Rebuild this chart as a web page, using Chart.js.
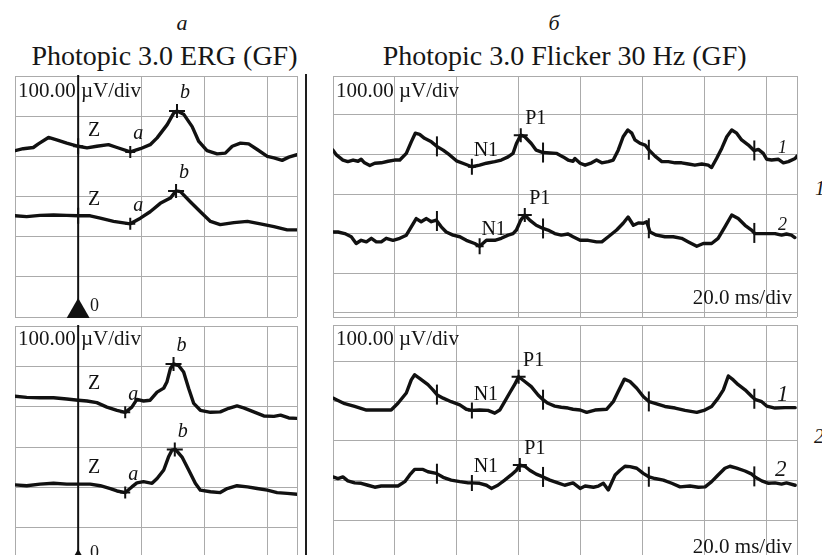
<!DOCTYPE html>
<html><head><meta charset="utf-8">
<script src="https://cdn.jsdelivr.net/npm/chart.js@4.4.1/dist/chart.umd.min.js"></script>
<style>
html,body{margin:0;padding:0;background:#fff;}
body{width:822px;height:555px;overflow:hidden;position:relative;font-family:"Liberation Serif","Times New Roman",serif;color:#161616;}
.t{position:absolute;white-space:nowrap;line-height:1;}
.i{font-style:italic;}
.cw{position:absolute;}
.cw canvas{display:block;}
</style></head>
<body>
<div class="t i" style="left:182px;top:11.6px;font-size:22px;transform:translateX(-50%)">а</div>
<div class="t i" style="left:554px;top:11.6px;font-size:22px;transform:translateX(-50%)">б</div>
<div class="t" style="left:164.5px;top:41.5px;font-size:28px;transform:translateX(-50%)">Photopic 3.0 ERG (GF)</div>
<div class="t" style="left:564.7px;top:41.5px;font-size:28px;transform:translateX(-50%)">Photopic 3.0 Flicker 30 Hz (GF)</div>

<div class="cw" id="w0"><canvas id="c0"></canvas></div>
<div class="cw" id="w1"><canvas id="c1"></canvas></div>
<div class="cw" id="w2"><canvas id="c2"></canvas></div>
<div class="cw" id="w3"><canvas id="c3"></canvas></div>

<div style="position:absolute;left:305px;top:74px;width:2px;height:481px;background:#1e1e1e"></div>

<div class="t" style="left:18px;top:80.4px;font-size:21px">100.00 µV/div</div>
<div class="t" style="left:336px;top:80.4px;font-size:21px">100.00 µV/div</div>
<div class="t" style="left:18px;top:328.4px;font-size:21px">100.00 µV/div</div>
<div class="t" style="left:336px;top:328.4px;font-size:21px">100.00 µV/div</div>
<div class="t" style="right:30px;top:287.4px;font-size:21px">20.0 ms/div</div>
<div class="t" style="right:30px;top:536.4px;font-size:21px">20.0 ms/div</div>
<div class="t" style="left:90px;top:296px;font-size:18px">0</div>
<div class="t" style="left:90px;top:543px;font-size:18px">0</div>
<div class="t i" style="left:778px;top:138px;font-size:18px">1</div>
<div class="t i" style="left:778px;top:215px;font-size:18px">2</div>
<div class="t i" style="left:777px;top:381.7px;font-size:23px">1</div>
<div class="t i" style="left:775px;top:456.7px;font-size:23px">2</div>
<div class="t i" style="left:815px;top:178.3px;font-size:20px">1</div>
<div class="t i" style="left:814px;top:426px;font-size:20px">2</div>

<script>
// ---------- DATA (time in ms, amplitude in µV relative to each trace's baseline) ----------
// Photopic 3.0 ERG, upper recording
const ergUpperT1 = [-20,-17.4,-14.2,-12.6,-9.4,-6.8,-3.6,0,2.8,5.9,9.6,12.3,16.5,19.7,22.8,25,28.2,30.2,31.3,33.4,36.1,38.2,40.8,44,46.6,48.8,51.4,54,56.7,59.9,62,64.6,66.7,69.3];
const ergUpperV1 = [-8,-3,0,9,25,19,11,3,-1,3,7,0,-11,-3,7,24,57,85,91,83,52,15,-8,-16,-14,3,11,9,-5,-22,-26,-32,-24,-18];
const ergUpperT2 = [-20,-16.3,-12.1,-7.8,-3.6,0,3.8,7,11.2,16.5,19.7,22.8,26,29.2,31,32.4,35.5,38.7,41.9,45,49.3,53.6,57.7,62,66.2,69.3];
const ergUpperV2 = [0,-2,1,2,1,0,0,-6,-14,-20,-6,10,31,44,62,60,35,10,-14,-22,-17,-14,-20,-27,-35,-35];
// Photopic 3.0 ERG, lower recording
const ergLowerT1 = [-20,-16.3,-12.1,-7.8,-3.6,0,2.8,5.9,9.1,12.3,14.9,17,18.6,20.7,22.8,25,27.1,28.1,29.2,30.2,31.8,33.4,35,36.6,38.7,41.9,45,47.7,50.3,52.4,55.6,58.8,62,64.1,66.7,69.3];
const ergLowerV1 = [10,7,6,6,3,0,-2,-6,-17,-25,-30,-17,2,-2,0,20,30,45,78,90,86,70,29,-8,-25,-30,-29,-20,-14,-19,-29,-39,-40,-37,-44,-45];
const ergLowerT2 = [-20,-16.3,-12.1,-7.8,-3.6,0,3.8,7,10.2,12.3,14.9,17,18.6,20.7,23.4,25,27.1,28.6,29.7,30.8,32.9,35,37.1,38.7,41.9,45,47.2,50.3,53.6,56.7,59.9,63,66.2,69.3];
const ergLowerV2 = [-2,-4,0,2,0,0,0,-4,-11,-17,-21,-7,3,6,2,14,35,67,84,86,67,35,2,-15,-19,-21,-11,-4,-7,-11,-15,-21,-23,-25];
// Photopic 3.0 Flicker 30 Hz, upper recording
const flkUpperT1 = [0,1.1,3.2,4.8,6.5,8.1,9.1,10.2,11.9,13.5,15.6,17.8,19.9,21.6,23.7,25.3,26.6,28,29.6,31.8,33.7,35.6,37.7,39.9,42.6,44.9,47.4,49.6,52.3,54.4,56.6,58.2,59.3,60.7,62,64.1,65.7,67.9,70.1,72.2,74.4,76,77.6,
  78.2,79.9,81.5,83.6,85.2,86.9,89,90.6,92.2,93.8,95.3,96.6,97.6,99.3,100.9,102.2,104.1,106.3,108.4,110.6,112.7,114.9,117,119.2,121.3,122.4,124,125.7,127.3,128.9,130.5,132.1,134.3,136.1,137.5,139.1,140.2,141.8,144,145.6,147.2,149.4,150];
const flkUpperV1 = [25,13,0,-4,0,-3,2,-7,-14,-8,-7,-3,0,0,17,46,68,65,55,46,34,25,13,-2,-10,-17,-13,-8,-4,0,8,17,42,63,59,42,25,19,18,17,8,0,-3,
  4,-8,-13,-7,0,-7,-4,0,25,59,76,68,51,42,38,25,10,-4,-4,-7,-7,-10,-13,-10,-13,-19,4,30,59,76,68,51,38,24,27,17,2,0,2,-7,-4,4,10];
const flkUpperT2 = [0,1.6,3.8,5.9,7.5,9.1,10.8,12.4,14,15.6,17.2,19.4,21.6,23.7,25.3,26.9,28.5,30.2,31.8,33.4,35,36.6,38.8,41,43.1,45.8,47.4,49.6,52.3,54.4,56.6,58.2,59.3,60.7,62,63.6,65.7,67.9,69.5,71.7,73.8,76,77.6,79.9,82.5,85.2,86.9,89,91.7,93.8,95.4,97.1,98.7,100.3,101.4,102.5,104.6,107.3,110,112.7,114.9,117.6,119.7,122.4,124.5,126.7,128.9,131,133.2,135.3,136.4,139.6,142.9,145,146.6,148.2,149.3];
const flkUpperV2 = [8,8,4,-4,-21,-13,-17,-8,-17,-17,-8,-13,-8,0,21,42,34,42,34,38,21,8,0,-4,-13,-21,-28,-13,-13,-8,0,4,13,38,51,38,25,17,13,4,0,3,-4,-13,-13,-17,-17,-4,13,30,46,25,31,30,34,8,0,-4,-4,-8,-17,-28,-21,-21,-8,21,51,42,25,13,4,4,4,0,3,0,-6];
// Photopic 3.0 Flicker 30 Hz, lower recording
const flkLowerT1 = [0,1.6,3.8,7,10.8,14.5,18.8,21,23.7,25.3,26.4,28,30.7,32.3,33.7,35.6,38.2,41,43.1,44.9,47.4,50.1,52.3,53.9,55.5,57.1,58.7,60,62,64.1,66.3,67.9,69.5,71.7,73.8,76,77.6,79.9,82,84.7,88.5,90.6,92.2,94.2,96,98.2,100.3,102.2,104.1,107.3,110.6,113.8,117.6,120.2,122.4,124.5,126.2,127.8,129.4,131,133.2,135.4,136.4,138.6,140.2,142.9,146.1,149.4];
const flkLowerV1 = [17,11,3,-4,-13,-13,-13,4,30,63,76,67,51,38,25,17,8,0,-11,-14,-13,-14,-21,-13,8,30,51,71,59,46,25,13,4,-3,-6,-8,-11,-13,-19,-13,-11,8,34,65,59,42,21,8,4,-4,-8,-14,-19,-13,-4,17,38,73,63,51,38,21,14,8,-3,-8,-7,-7];
const flkLowerT2 = [0,1.6,3.2,4.8,7,9.1,11.3,13.5,15.6,18.3,21,23.2,24.8,26.4,29.1,30.7,33.4,35.6,38.2,41,43.7,44.9,47.4,49.6,51.2,53.3,55.5,57.6,59.3,60.4,62,63.6,65.7,67.9,70.1,72.7,74.9,77.6,79.9,81.5,84.2,85.8,87.4,89,91.2,92.8,94.4,96,98.2,100.3,102.2,104.1,106.8,109.5,112.2,115.4,118.1,120.3,122.4,124.5,126.7,128.3,130.5,133.2,135.4,136.4,138.6,140.8,142.9,145,146.6,149.4];
const flkLowerV2 = [8,4,8,-2,-7,-8,-13,-18,-15,-15,-15,-4,13,27,27,21,17,7,0,-4,-7,-7,-8,-13,-21,-13,0,13,25,38,35,25,15,8,0,-7,-13,-7,-21,-15,-18,-15,-8,-25,13,25,35,34,30,17,8,4,0,-8,-17,-15,-18,-17,-4,13,30,35,30,23,15,8,-2,-8,-7,-10,-7,-13];

// Marker names and times (ms)
const ergMarkNames = ['Z','a','b'];
const ergUpperMarks1 = [0,16.5,31.3];
const ergUpperMarks2 = [0,16.5,31.0];
const ergLowerMarks1 = [0,14.9,30.2];
const ergLowerMarks2 = [0,14.9,30.6];
const flkMarkNames = ['N1','P1'];
const flkUpperMarks1 = [44.9,60.7];
const flkUpperMarks2 = [47.4,62.0];
const flkLowerMarks1 = [44.9,60.0];
const flkLowerMarks2 = [44.9,60.4];
const flkStimTimes = [33.6,67.9,102.1,136.2];

// Grid (20 ms/div, 100 µV/div)
const ergGridMs = [0,20,40,60];
const flkGridMs = [20,40,60,80,100,120,140];
const gridUv = [100,200,300,400,500];

// ---------- LAYOUT ----------
const PAD = 4;
const panels = [
  {id:'c0', w:'w0', l:15, t:76, r:296.5, b:317, xMin:-20, xMax:69.3, yMin:0, yMax:600, xGrid:ergGridMs, zero:true, zCross:true,
   traces:[{t:ergUpperT1,v:ergUpperV1,off:422,mt:ergUpperMarks1,mn:ergMarkNames},{t:ergUpperT2,v:ergUpperV2,off:252,mt:ergUpperMarks2,mn:ergMarkNames}]},
  {id:'c1', w:'w1', l:15, t:326, r:296.5, b:568, xMin:-20, xMax:69.3, yMin:0, yMax:600, xGrid:ergGridMs, zero:true, zCross:false,
   traces:[{t:ergLowerT1,v:ergLowerV1,off:416,mt:ergLowerMarks1,mn:ergMarkNames},{t:ergLowerT2,v:ergLowerV2,off:208,mt:ergLowerMarks2,mn:ergMarkNames}]},
  {id:'c2', w:'w2', l:333, t:76, r:797, b:317, xMin:0, xMax:150, yMin:-11, yMax:598.6, xGrid:flkGridMs, stim:true,
   traces:[{t:flkUpperT1,v:flkUpperV1,off:386,mt:flkUpperMarks1,mn:flkMarkNames},{t:flkUpperT2,v:flkUpperV2,off:196,mt:flkUpperMarks2,mn:flkMarkNames}]},
  {id:'c3', w:'w3', l:333, t:325, r:797, b:569, xMin:0, xMax:150, yMin:-23.5, yMax:592.7, xGrid:flkGridMs, stim:true,
   traces:[{t:flkLowerT1,v:flkLowerV1,off:391,mt:flkLowerMarks1,mn:flkMarkNames},{t:flkLowerT2,v:flkLowerV2,off:201,mt:flkLowerMarks2,mn:flkMarkNames}]}
];

const crossSize = {Z:[5,8], a:[5,6], b:[8,7], N1:[4,8], P1:[7,7]};
const labelOff = {Z:[16,-16], a:[8,-18], b:[8,-18], N1:[14,-16], P1:[15,-16]};
const INK = '#111111';
const GRID = '#ababab';

function interp(ts, vs, t){
  for(let i=1;i<ts.length;i++){
    if(t<=ts[i]){ const f=(t-ts[i-1])/(ts[i]-ts[i-1]); return vs[i-1]+f*(vs[i]-vs[i-1]); }
  }
  return vs[vs.length-1];
}

function decoPlugin(p){
  return {
    id:'deco',
    afterDatasetsDraw(chart){
      const ctx=chart.ctx, xs=chart.scales.x, ys=chart.scales.y, a=chart.chartArea;
      ctx.save();
      ctx.strokeStyle=INK; ctx.fillStyle=INK; ctx.lineCap='butt';
      if(p.zero){
        const x0=xs.getPixelForValue(0);
        ctx.lineWidth=2;
        ctx.beginPath(); ctx.moveTo(x0,a.top-1); ctx.lineTo(x0,a.bottom); ctx.stroke();
        ctx.beginPath(); ctx.moveTo(x0,a.bottom-19); ctx.lineTo(x0+11.5,a.bottom+1); ctx.lineTo(x0-11.5,a.bottom+1); ctx.closePath(); ctx.fill();
      }
      p.traces.forEach(tr=>{
        if(p.stim){
          ctx.lineWidth=2;
          flkStimTimes.forEach(st=>{
            const px=xs.getPixelForValue(st), py=ys.getPixelForValue(interp(tr.t,tr.v,st)+tr.off);
            ctx.beginPath(); ctx.moveTo(px,py-10); ctx.lineTo(px,py+10); ctx.stroke();
          });
        }
        tr.mt.forEach((mt,k)=>{
          const name=tr.mn[k];
          const px=xs.getPixelForValue(mt), py=ys.getPixelForValue(interp(tr.t,tr.v,mt)+tr.off);
          if(!(name==='Z' && !p.zCross)){
            const s=crossSize[name];
            ctx.lineWidth=2;
            ctx.beginPath(); ctx.moveTo(px-s[0],py); ctx.lineTo(px+s[0],py);
            ctx.moveTo(px,py-s[1]); ctx.lineTo(px,py+s[1]); ctx.stroke();
          }
          const o=labelOff[name];
          const it=(name==='a'||name==='b');
          ctx.font=(it?'italic ':'')+'20px "Liberation Serif", serif';
          ctx.textAlign='center'; ctx.textBaseline='middle';
          ctx.fillText(name, px+o[0], py+o[1]);
        });
      });
      ctx.restore();
    }
  };
}

panels.forEach(p=>{
  const wrap=document.getElementById(p.w);
  const W=Math.round(p.r-p.l+2*PAD), H=Math.round(p.b-p.t+2*PAD);
  wrap.style.left=(p.l-PAD)+'px'; wrap.style.top=(p.t-PAD)+'px';
  const cv=document.getElementById(p.id);
  cv.width=W; cv.height=H; cv.style.width=W+'px'; cv.style.height=H+'px';
  const yTicks=[p.yMin,...gridUv.filter(v=>v>p.yMin&&v<p.yMax),p.yMax];
  if(p.yMin<0) yTicks.splice(1,0,0);
  const xTicks=[p.xMin,...p.xGrid,p.xMax];
  new Chart(cv.getContext('2d'),{
    type:'line',
    data:{datasets:p.traces.map(tr=>({
      data:tr.t.map((x,i)=>({x:x,y:tr.v[i]+tr.off})),
      borderColor:INK, borderWidth:3.4, pointRadius:0, tension:0, fill:false,
      borderJoinStyle:'round', borderCapStyle:'round'
    }))},
    options:{
      responsive:false, animation:false, events:[], devicePixelRatio:1,
      layout:{padding:PAD},
      plugins:{legend:{display:false}, tooltip:{enabled:false}, title:{display:false}},
      scales:{
        x:{type:'linear', min:p.xMin, max:p.xMax,
           ticks:{display:false}, grid:{color:GRID, lineWidth:1, drawTicks:false}, border:{display:false},
           afterBuildTicks:ax=>{ax.ticks=xTicks.map(v=>({value:v}));}},
        y:{type:'linear', min:p.yMin, max:p.yMax,
           ticks:{display:false}, grid:{color:GRID, lineWidth:1, drawTicks:false}, border:{display:false},
           afterBuildTicks:ax=>{ax.ticks=yTicks.map(v=>({value:v}));}}
      }
    },
    plugins:[decoPlugin(p)]
  });
});
</script>
</body></html>
